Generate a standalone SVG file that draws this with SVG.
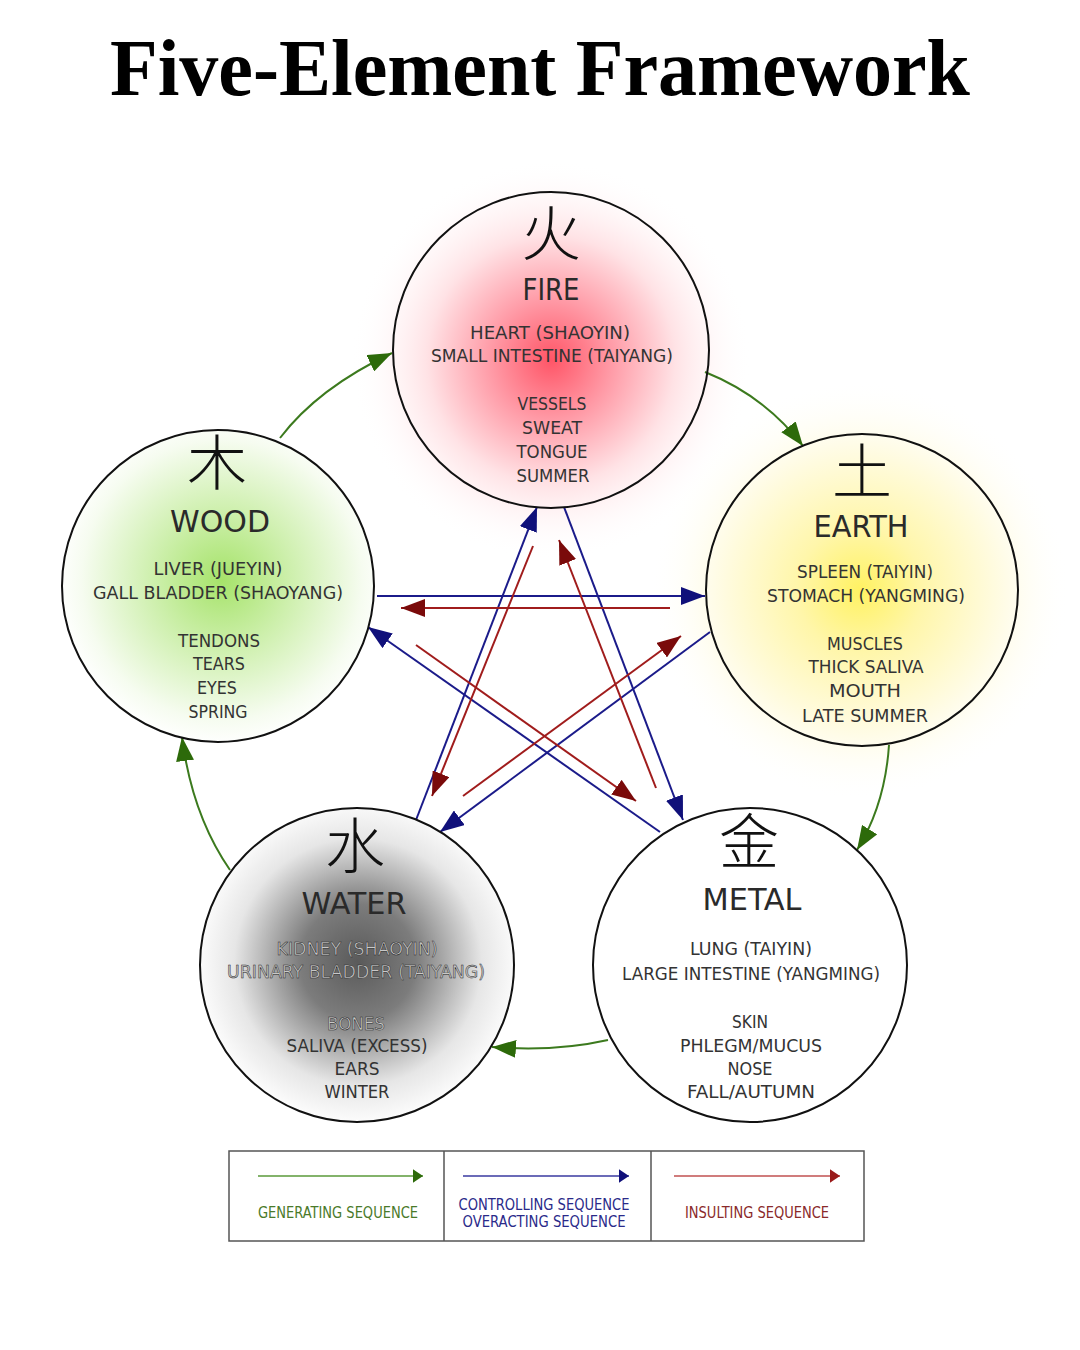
<svg xmlns="http://www.w3.org/2000/svg" width="1080" height="1350" viewBox="0 0 1080 1350">
<style>
.title{font-family:"Liberation Serif","Times New Roman",serif;font-weight:bold;font-size:80px;fill:#000;text-anchor:middle}
.cjk{font-family:"Noto Sans CJK SC","Noto Sans CJK JP",sans-serif;font-size:60px;font-weight:300;fill:#111;text-anchor:middle}
.nm{font-family:"Liberation Sans Narrow","DejaVu Sans Condensed",sans-serif;font-size:31px;fill:#2a2a2a;text-anchor:middle}
.ln{font-family:"Liberation Sans Narrow","DejaVu Sans Condensed",sans-serif;font-size:18px;fill:#333;text-anchor:middle}
.wt{fill:#c8c8c8;stroke:#222;stroke-width:0.45}
.ring{fill:none;stroke:#111;stroke-width:2}
.gen{fill:none;stroke:#3c7a1e;stroke-width:2;marker-end:url(#mg)}
.ctl{fill:none;stroke:#1b1b8a;stroke-width:2;marker-end:url(#mb)}
.ins{fill:none;stroke:#a01c1c;stroke-width:2;marker-end:url(#mr)}
.lg{font-family:"Liberation Sans Narrow","DejaVu Sans Condensed",sans-serif;font-size:15px;text-anchor:middle}
</style>
<defs>
<marker id="mg" viewBox="0 0 24 18" refX="24" refY="9" markerWidth="24" markerHeight="18" markerUnits="userSpaceOnUse" orient="auto"><path d="M0,0 L24,9 L0,18 z" fill="#2d6a0a"/></marker>
<marker id="mb" viewBox="0 0 24 18" refX="24" refY="9" markerWidth="24" markerHeight="18" markerUnits="userSpaceOnUse" orient="auto"><path d="M0,0 L24,9 L0,18 z" fill="#10107a"/></marker>
<marker id="mr" viewBox="0 0 24 18" refX="24" refY="9" markerWidth="24" markerHeight="18" markerUnits="userSpaceOnUse" orient="auto"><path d="M0,0 L24,9 L0,18 z" fill="#7a0a0a"/></marker>
<marker id="lgG" viewBox="0 0 12 16" refX="12" refY="8" markerWidth="10" markerHeight="16" markerUnits="userSpaceOnUse" orient="auto"><path d="M0,0 L12,8 L0,16 z" fill="#2d6a0a"/></marker>
<marker id="lgB" viewBox="0 0 12 16" refX="12" refY="8" markerWidth="10" markerHeight="16" markerUnits="userSpaceOnUse" orient="auto"><path d="M0,0 L12,8 L0,16 z" fill="#10107a"/></marker>
<marker id="lgR" viewBox="0 0 12 16" refX="12" refY="8" markerWidth="10" markerHeight="16" markerUnits="userSpaceOnUse" orient="auto"><path d="M0,0 L12,8 L0,16 z" fill="#9a1a1a"/></marker>
<radialGradient id="gFire" cx="551" cy="360" r="200" gradientUnits="userSpaceOnUse">
<stop offset="0" stop-color="#ff5567"/><stop offset="0.3" stop-color="#ff9aa6"/><stop offset="0.62" stop-color="#ffe2e5"/><stop offset="1" stop-color="#ffffff" stop-opacity="0"/>
</radialGradient>
<radialGradient id="gWood" cx="222" cy="580" r="165" gradientUnits="userSpaceOnUse">
<stop offset="0" stop-color="#a6e36a"/><stop offset="0.4" stop-color="#ccefaa"/><stop offset="0.85" stop-color="#f6fcf0"/><stop offset="1" stop-color="#ffffff"/>
</radialGradient>
<radialGradient id="gEarth" cx="860" cy="590" r="210" gradientUnits="userSpaceOnUse">
<stop offset="0" stop-color="#fff262"/><stop offset="0.3" stop-color="#fff6aa"/><stop offset="0.7" stop-color="#fffce8"/><stop offset="1" stop-color="#ffffff" stop-opacity="0"/>
</radialGradient>
<radialGradient id="gWater" cx="358" cy="962" r="165" gradientUnits="userSpaceOnUse">
<stop offset="0" stop-color="#5a5a5a"/><stop offset="0.35" stop-color="#7c7c7c"/><stop offset="0.75" stop-color="#e6e6e6"/><stop offset="1" stop-color="#ffffff"/>
</radialGradient>
</defs>
<rect width="1080" height="1350" fill="#ffffff"/>
<text class="title" x="540" y="95" textLength="860" lengthAdjust="spacingAndGlyphs">Five-Element Framework</text>

<circle cx="551" cy="360" r="200" fill="url(#gFire)"/>
<circle cx="860" cy="590" r="210" fill="url(#gEarth)"/>

<g id="connectors">
<path class="gen" d="M280,438 Q318,388 392,353"/>
<path class="gen" d="M705,372 Q765,396 803,446"/>
<path class="gen" d="M889,745 Q885,805 857,850"/>
<path class="gen" d="M608,1040 Q555,1052 492,1047"/>
<path class="gen" d="M230,870 Q192,815 182,737"/>
<path class="ctl" d="M377,596 L705,596"/>
<path class="ctl" d="M710,632 L440,832"/>
<path class="ctl" d="M660,832 L368,627"/>
<path class="ctl" d="M416,820 L537,507"/>
<path class="ctl" d="M564,507 L683,820"/>
<path class="ins" d="M670,608 L401,608"/>
<path class="ins" d="M533,546 L432,796"/>
<path class="ins" d="M656,788 L559,540"/>
<path class="ins" d="M416,645 L636,801"/>
<path class="ins" d="M463,796 L681,636"/>
</g>

<g id="fire">
<circle class="ring" cx="551" cy="350" r="158"/>
<text class="cjk" x="551" y="256">火</text>
<text class="nm" x="551" y="300" textLength="57" lengthAdjust="spacingAndGlyphs">FIRE</text>
<text class="ln" x="550" y="339" textLength="160" lengthAdjust="spacingAndGlyphs">HEART (SHAOYIN)</text>
<text class="ln" x="552" y="362" textLength="242" lengthAdjust="spacingAndGlyphs">SMALL INTESTINE (TAIYANG)</text>
<text class="ln" x="552" y="410" textLength="69" lengthAdjust="spacingAndGlyphs">VESSELS</text>
<text class="ln" x="552" y="434" textLength="60" lengthAdjust="spacingAndGlyphs">SWEAT</text>
<text class="ln" x="552" y="458" textLength="71" lengthAdjust="spacingAndGlyphs">TONGUE</text>
<text class="ln" x="553" y="482" textLength="73" lengthAdjust="spacingAndGlyphs">SUMMER</text>
</g>

<g id="wood">
<circle cx="218" cy="586" r="156" fill="url(#gWood)"/>
<circle class="ring" cx="218" cy="586" r="156"/>
<text class="cjk" x="217" y="485">木</text>
<text class="nm" x="220" y="532" textLength="100" lengthAdjust="spacingAndGlyphs">WOOD</text>
<text class="ln" x="218" y="575" textLength="129" lengthAdjust="spacingAndGlyphs">LIVER (JUEYIN)</text>
<text class="ln" x="218" y="599" textLength="250" lengthAdjust="spacingAndGlyphs">GALL BLADDER (SHAOYANG)</text>
<text class="ln" x="219" y="647" textLength="82" lengthAdjust="spacingAndGlyphs">TENDONS</text>
<text class="ln" x="219" y="670" textLength="52" lengthAdjust="spacingAndGlyphs">TEARS</text>
<text class="ln" x="217" y="694" textLength="40" lengthAdjust="spacingAndGlyphs">EYES</text>
<text class="ln" x="218" y="718" textLength="59" lengthAdjust="spacingAndGlyphs">SPRING</text>
</g>

<g id="earth">
<circle class="ring" cx="862" cy="590" r="156"/>
<text class="cjk" x="862" y="494">土</text>
<text class="nm" x="861" y="537" textLength="95" lengthAdjust="spacingAndGlyphs">EARTH</text>
<text class="ln" x="865" y="578" textLength="136" lengthAdjust="spacingAndGlyphs">SPLEEN (TAIYIN)</text>
<text class="ln" x="866" y="602" textLength="198" lengthAdjust="spacingAndGlyphs">STOMACH (YANGMING)</text>
<text class="ln" x="865" y="650" textLength="76" lengthAdjust="spacingAndGlyphs">MUSCLES</text>
<text class="ln" x="866" y="673" textLength="115" lengthAdjust="spacingAndGlyphs">THICK SALIVA</text>
<text class="ln" x="865" y="697" textLength="72" lengthAdjust="spacingAndGlyphs">MOUTH</text>
<text class="ln" x="865" y="722" textLength="126" lengthAdjust="spacingAndGlyphs">LATE SUMMER</text>
</g>

<g id="water">
<circle cx="357" cy="965" r="157" fill="url(#gWater)"/>
<circle class="ring" cx="357" cy="965" r="157"/>
<text class="cjk" x="355" y="868">水</text>
<text class="nm" x="354" y="914" textLength="105" lengthAdjust="spacingAndGlyphs">WATER</text>
<text class="ln wt" x="357" y="955" textLength="161" lengthAdjust="spacingAndGlyphs">KIDNEY (SHAOYIN)</text>
<text class="ln wt" x="356" y="978" textLength="258" lengthAdjust="spacingAndGlyphs">URINARY BLADDER (TAIYANG)</text>
<text class="ln wt" x="356" y="1030" textLength="58" lengthAdjust="spacingAndGlyphs">BONES</text>
<text class="ln" x="357" y="1052" textLength="141" lengthAdjust="spacingAndGlyphs">SALIVA (EXCESS)</text>
<text class="ln" x="357" y="1075" textLength="45" lengthAdjust="spacingAndGlyphs">EARS</text>
<text class="ln" x="357" y="1098" textLength="65" lengthAdjust="spacingAndGlyphs">WINTER</text>
</g>

<g id="metal">
<circle cx="750" cy="965" r="157" fill="#ffffff"/>
<circle class="ring" cx="750" cy="965" r="157"/>
<text class="cjk" x="749" y="864">金</text>
<text class="nm" x="752" y="910" textLength="99" lengthAdjust="spacingAndGlyphs">METAL</text>
<text class="ln" x="751" y="955" textLength="122" lengthAdjust="spacingAndGlyphs">LUNG (TAIYIN)</text>
<text class="ln" x="751" y="980" textLength="258" lengthAdjust="spacingAndGlyphs">LARGE INTESTINE (YANGMING)</text>
<text class="ln" x="750" y="1028" textLength="36" lengthAdjust="spacingAndGlyphs">SKIN</text>
<text class="ln" x="751" y="1052" textLength="142" lengthAdjust="spacingAndGlyphs">PHLEGM/MUCUS</text>
<text class="ln" x="750" y="1075" textLength="45" lengthAdjust="spacingAndGlyphs">NOSE</text>
<text class="ln" x="751" y="1098" textLength="128" lengthAdjust="spacingAndGlyphs">FALL/AUTUMN</text>
</g>

<g id="legend">
<rect x="229" y="1151" width="635" height="90" fill="#ffffff" stroke="#555" stroke-width="1.5"/>
<line x1="444" y1="1151" x2="444" y2="1241" stroke="#555" stroke-width="1.5"/>
<line x1="651" y1="1151" x2="651" y2="1241" stroke="#555" stroke-width="1.5"/>
<line x1="258" y1="1176" x2="423" y2="1176" stroke="#5a9a3a" stroke-width="1.5" marker-end="url(#lgG)"/>
<line x1="463" y1="1176" x2="629" y2="1176" stroke="#3a3aa0" stroke-width="1.5" marker-end="url(#lgB)"/>
<line x1="674" y1="1176" x2="840" y2="1176" stroke="#c05050" stroke-width="1.5" marker-end="url(#lgR)"/>
<text class="lg" x="338" y="1218" fill="#4a7a2a" textLength="160" lengthAdjust="spacingAndGlyphs">GENERATING SEQUENCE</text>
<text class="lg" x="544" y="1210" fill="#2a2a8a" textLength="171" lengthAdjust="spacingAndGlyphs">CONTROLLING SEQUENCE</text>
<text class="lg" x="544" y="1227" fill="#2a2a8a" textLength="163" lengthAdjust="spacingAndGlyphs">OVERACTING SEQUENCE</text>
<text class="lg" x="757" y="1218" fill="#8a2a2a" textLength="144" lengthAdjust="spacingAndGlyphs">INSULTING SEQUENCE</text>
</g>
</svg>
